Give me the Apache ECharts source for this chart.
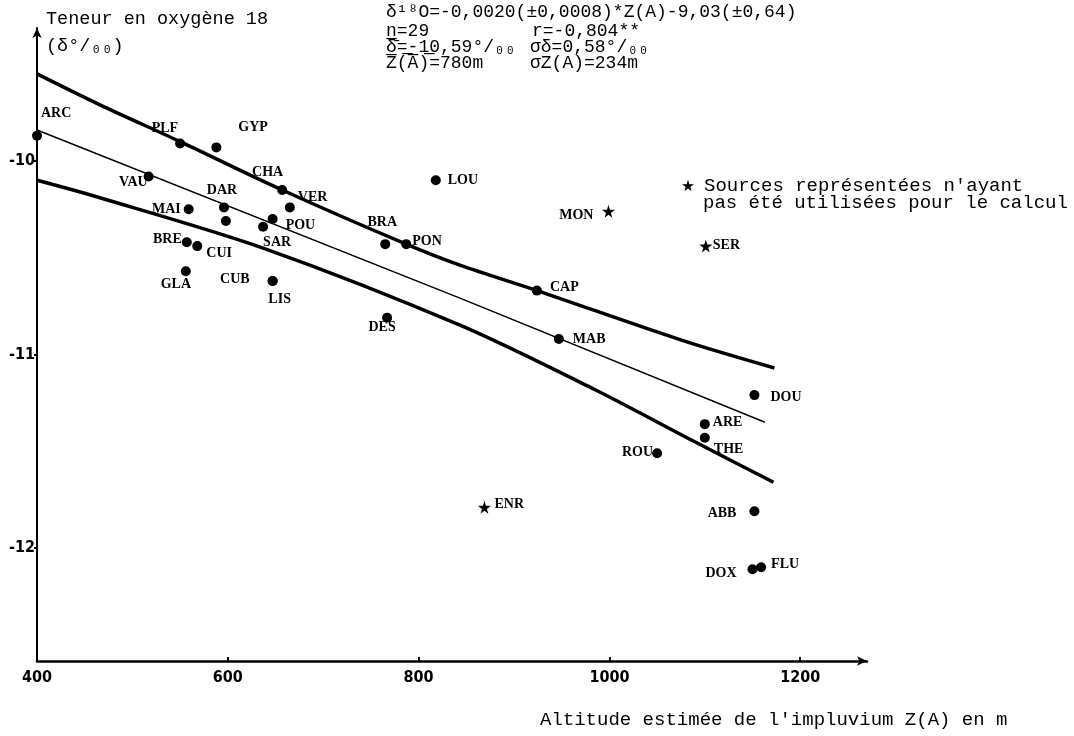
<!DOCTYPE html>
<html>
<head>
<meta charset="utf-8">
<script src="https://cdn.jsdelivr.net/npm/echarts@6/dist/echarts.min.js"></script>
<style>
    html, body { margin: 0; padding: 0; background: #fff; }
    #chart { width: 1074px; height: 736px; }
</style>
</head>
<body>
<div id="chart"></div>
<script>
// sources used for the regression (altitude Z(A) in m, delta 18O in per mille)
const usedNames = ["ARC", "PLF", "GYP", "VAU", "CHA", "VER", "MAI", "DAR", "", "POU",
    "SAR", "BRE", "CUI", "GLA", "CUB", "LIS", "BRA", "PON", "LOU", "DES",
    "CAP", "MAB", "DOU", "ARE", "THE", "ROU", "ABB", "DOX", "FLU"];
const usedAlt = [400, 550, 588, 517, 657, 665, 559, 596, 598, 647,
    637, 557, 568, 556, 647, 647, 765, 787, 818, 767,
    924, 947, 1152, 1100, 1100, 1050, 1152, 1150, 1159];
const usedO18 = [-9.87, -9.91, -9.93, -10.08, -10.15, -10.24, -10.25, -10.24, -10.31, -10.30,
    -10.34, -10.42, -10.44, -10.57, -10.62, -10.62, -10.43, -10.43, -10.10, -10.81,
    -10.67, -10.92, -11.21, -11.36, -11.43, -11.51, -11.81, -12.11, -12.10];

// sources shown but not used for the calculation
const unusedNames = ["MON", "SER", "ENR"];
const unusedAlt = [999, 1101, 869];
const unusedO18 = [-10.26, -10.44, -11.79];

// regression line and confidence band
const regAlt = [400, 844, 1163];
const regO18 = [-9.84, -10.71, -11.35];
const upperAlt = [400, 466, 550, 657, 787, 844, 924, 1078, 1173];
const upperO18 = [-9.55, -9.71, -9.90, -10.15, -10.43, -10.54, -10.67, -10.93, -11.07];
const lowerAlt = [400, 466, 637, 844, 984, 1089, 1172];
const lowerO18 = [-10.10, -10.19, -10.45, -10.85, -11.18, -11.45, -11.66];

const xTicks = [400, 600, 800, 1000, 1200];
const yTicks = [-12, -11, -10];

// label placement next to each dot: [dx, dy, align]
const labelPlace = {
    ARC: [4, -22, "left"], PLF: [-2, -15, "right"], GYP: [22, -20, "left"],
    VAU: [-1, 6, "right"], CHA: [1, -18, "right"], VER: [8, -10, "left"],
    MAI: [-8, 0, "right"], DAR: [-2, -17, "center"], POU: [13, 6, "left"],
    SAR: [0, 16, "left"], BRE: [-5, -3, "right"], CUI: [9, 7, "left"],
    GLA: [-10, 13, "center"], CUB: [-23, -2, "right"], LIS: [7, 18, "center"],
    BRA: [-3, -22, "center"], PON: [6, -3, "left"], LOU: [12, 0, "left"],
    DES: [-5, 10, "center"], CAP: [13, -3, "left"], MAB: [14, 0, "left"],
    DOU: [16, 2, "left"], ARE: [8, -2, "left"], THE: [9, 12, "left"],
    ROU: [-4, -1, "right"], ABB: [-18, 2, "right"], DOX: [-16, 4, "right"],
    FLU: [10, -3, "left"], MON: [-15, 4, "right"], SER: [7, -1, "left"],
    ENR: [10, -3, "left"]
};

const STAR = "path://M50,0 L61,35 L98,35 L68,57 L79,91 L50,70 L21,91 L32,57 L2,35 L39,35 Z";
const MONO = "Liberation Mono";
const SERIF = "Liberation Serif";
const typed = (size) => size + "px '" + MONO + "'";

const pointItem = (name, x, y, size) => {
    const p = labelPlace[name];
    const half = size / 2;
    return {
        name: name,
        value: [x, y],
        label: p ? {
            show: true,
            position: [half + p[0], half + p[1]],
            align: p[2],
            verticalAlign: "middle"
        } : { show: false }
    };
};

const usedData = usedNames.map((n, i) => pointItem(n, usedAlt[i], usedO18[i], 10));
const unusedData = unusedNames.map((n, i) => pointItem(n, unusedAlt[i], unusedO18[i], 13));
const pairs = (xs, ys) => xs.map((x, i) => [x, ys[i]]);

const pointLabel = {
    formatter: "{b}",
    color: "#000",
    fontFamily: SERIF,
    fontWeight: "bold",
    fontSize: 14
};

const tickLabel = {
    margin: 9,
    color: "#000",
    fontFamily: "DejaVu Sans Condensed",
    fontWeight: "bold",
    fontSize: 16,
    formatter: (v) => String(v)
};

const chart = echarts.init(document.getElementById("chart"));

const option = {
    backgroundColor: "#fff",
    animation: false,
    grid: {
        left: 37,
        right: 207,
        top: 28,
        bottom: 75,
        outerBoundsMode: "none"
    },
    legend: {
        left: 677,
        top: 171,
        data: ["non utilisées"],
        icon: STAR,
        itemWidth: 12,
        itemHeight: 12,
        formatter: () => "Sources représentées n'ayant",
        textStyle: { fontFamily: MONO, fontSize: 19, color: "#000", padding: [0, 0, 0, 5] }
    },
    xAxis: {
        type: "value",
        min: 400,
        max: 1270,
        splitLine: { show: false },
        axisLine: {
            lineStyle: { color: "#000", width: 2.5 },
            symbol: ["none", "arrow"],
            symbolSize: [7, 10]
        },
        axisTick: { customValues: xTicks, inside: true, length: 4, lineStyle: { color: "#000", width: 2 } },
        axisLabel: Object.assign({ customValues: xTicks }, tickLabel)
    },
    yAxis: {
        type: "value",
        min: -12.584,
        max: -9.313,
        splitLine: { show: false },
        axisLine: {
            lineStyle: { color: "#000", width: 2 },
            symbol: ["none", "arrow"],
            symbolSize: [7, 10]
        },
        axisTick: { customValues: yTicks, length: 3, lineStyle: { color: "#000", width: 2 } },
        axisLabel: Object.assign({}, tickLabel, { customValues: yTicks, margin: 2 })
    },
    graphic: [
        { type: "text", left: 46, top: 10, style: { text: "Teneur en oxygène 18", font: typed(18.5), fill: "#000" } },
        { type: "text", left: 46, top: 37, style: { text: "(δ°/₀₀)", font: typed(18.5), fill: "#000" } },
        { type: "text", left: 386, top: 3, style: { text: "δ¹⁸O=-0,0020(±0,0008)*Z(A)-9,03(±0,64)", font: typed(18), fill: "#000" } },
        { type: "text", left: 386, top: 22, style: { text: "n̲=29", font: typed(18), fill: "#000" } },
        { type: "text", left: 532, top: 22, style: { text: "r=-0,804**", font: typed(18), fill: "#000" } },
        { type: "text", left: 386, top: 38, style: { text: "δ̄=-10,59°/₀₀", font: typed(18), fill: "#000" } },
        { type: "text", left: 530, top: 38, style: { text: "σδ=0,58°/₀₀", font: typed(18), fill: "#000" } },
        { type: "text", left: 386, top: 54, style: { text: "Z̅(̅A̅)̅=780m", font: typed(18), fill: "#000" } },
        { type: "text", left: 530, top: 54, style: { text: "σZ(A)=234m", font: typed(18), fill: "#000" } },
        { type: "text", left: 703, top: 193, style: { text: "pas été utilisées pour le calcul", font: typed(19), fill: "#000" } },
        { type: "text", left: 540, top: 710, style: { text: "Altitude estimée de l'impluvium Z(A) en m", font: typed(19), fill: "#000" } }
    ],
    series: [
        {
            name: "borne haute",
            type: "line",
            data: pairs(upperAlt, upperO18),
            smooth: 0.3,
            showSymbol: false,
            lineStyle: { color: "#000", width: 3.5 },
            z: 2
        },
        {
            name: "régression",
            type: "line",
            data: pairs(regAlt, regO18),
            showSymbol: false,
            lineStyle: { color: "#000", width: 1.5 },
            z: 2
        },
        {
            name: "borne basse",
            type: "line",
            data: pairs(lowerAlt, lowerO18),
            smooth: 0.3,
            showSymbol: false,
            lineStyle: { color: "#000", width: 3.5 },
            z: 2
        },
        {
            name: "utilisées",
            type: "scatter",
            data: usedData,
            symbol: "circle",
            symbolSize: 10,
            itemStyle: { color: "#000", opacity: 1 },
            label: pointLabel,
            z: 3
        },
        {
            name: "non utilisées",
            type: "scatter",
            data: unusedData,
            symbol: STAR,
            symbolSize: 13,
            itemStyle: { color: "#000", opacity: 1 },
            label: pointLabel,
            z: 3
        }
    ]
};

chart.setOption(option);
</script>
</body>
</html>
